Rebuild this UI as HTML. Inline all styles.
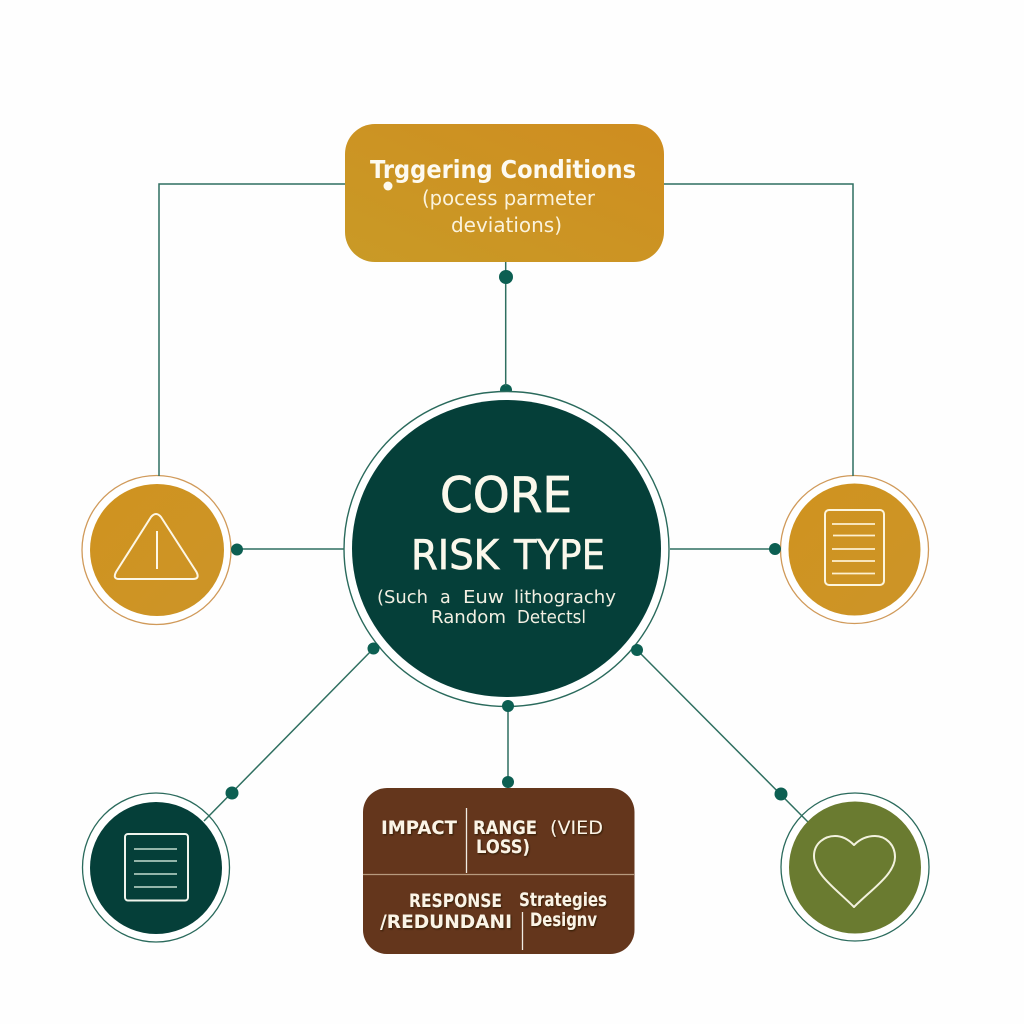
<!DOCTYPE html>
<html><head><meta charset="utf-8"><style>html,body{margin:0;padding:0;background:#fefefe}svg{display:block}text{font-family:"DejaVu Sans","Liberation Sans",sans-serif}</style></head><body>
<svg width="1024" height="1024" viewBox="0 0 1024 1024" xmlns="http://www.w3.org/2000/svg">
<defs>
<linearGradient id="g1" x1="0" y1="1" x2="1" y2="0"><stop offset="0" stop-color="#c99a26"/><stop offset="1" stop-color="#cf8d20"/></linearGradient>
<linearGradient id="g2" x1="0" y1="0" x2="1" y2="1"><stop offset="0" stop-color="#d0931f"/><stop offset="1" stop-color="#cc9428"/></linearGradient>
<filter id="sh" x="-5%" y="-20%" width="110%" height="140%"><feDropShadow dx="1" dy="1.2" stdDeviation="0.8" flood-color="#2a1206" flood-opacity=".8"/></filter>
</defs>
<rect width="1024" height="1024" fill="#fefefe"/>
<circle cx="506" cy="390" r="6" fill="#0c5f52"/>
<!-- outer rings -->
<ellipse cx="506.5" cy="549" rx="162.5" ry="157.5" fill="#fff" stroke="#2a6a5c" stroke-width="1.4"/>
<circle cx="156.5" cy="550" r="74.5" fill="#fff" stroke="#d09a5a" stroke-width="1.3"/>
<circle cx="854.5" cy="549.5" r="74" fill="#fff" stroke="#d09a5a" stroke-width="1.3"/>
<ellipse cx="156" cy="867.5" rx="73.5" ry="74.5" fill="#fff" stroke="#2a6a5c" stroke-width="1.3"/>
<circle cx="855" cy="867" r="74" fill="#fff" stroke="#2a6a5c" stroke-width="1.3"/>
<!-- connectors -->
<g fill="none" stroke="#2f6f60" stroke-width="1.5">
<path d="M345 184H159V476"/><path d="M664 184H853V476"/>
<path d="M505.7 262V386"/><path d="M237 549H344"/><path d="M670 549H775"/>
<path d="M373 649L204 821"/><path d="M637 650L808 822"/><path d="M508 706V788"/>
</g>
<!-- top box -->
<rect x="345" y="124" width="319" height="138" rx="30" fill="url(#g1)"/>
<text x="370" y="178" textLength="266" lengthAdjust="spacingAndGlyphs" font-size="24.5" font-weight="700" fill="#fdfaf0">Trggering Conditions</text>
<circle cx="388" cy="186" r="4.5" fill="#fdfaf0"/>
<text x="422" y="205" textLength="173" lengthAdjust="spacingAndGlyphs" font-size="20" fill="#fbf3dc">(pocess parmeter</text>
<text x="451" y="232" textLength="111" lengthAdjust="spacingAndGlyphs" font-size="20" fill="#fbf3dc">deviations)</text>
<!-- center -->
<ellipse cx="506.5" cy="548.5" rx="154.5" ry="148.5" fill="#053f39"/>
<g fill="#fbf8ec">
<text x="440" y="512" textLength="132" lengthAdjust="spacingAndGlyphs" font-size="49" stroke="#fbf8ec" stroke-width=".8">CORE</text>
<text x="411" y="569" textLength="88" lengthAdjust="spacingAndGlyphs" font-size="41" stroke="#fbf8ec" stroke-width=".7">RISK</text>
<text x="514" y="569" textLength="91" lengthAdjust="spacingAndGlyphs" font-size="41" stroke="#fbf8ec" stroke-width=".4">TYPE</text>
</g>
<g fill="#f2efe2" font-size="17.5">
<text x="377" y="603" textLength="51" lengthAdjust="spacingAndGlyphs">(Such</text>
<text x="440" y="603">a</text>
<text x="463" y="603" textLength="41" lengthAdjust="spacingAndGlyphs">Euw</text>
<text x="514" y="603" textLength="102" lengthAdjust="spacingAndGlyphs">lithograchy</text>
<text x="431" y="623" textLength="75" lengthAdjust="spacingAndGlyphs">Random</text>
<text x="517" y="623" textLength="69" lengthAdjust="spacingAndGlyphs">Detectsl</text>
</g>
<!-- warning -->
<ellipse cx="157" cy="550" rx="67" ry="66" fill="url(#g2)"/>
<path d="M151 517Q156 511 161 517L196.500 572Q200 579 193 579H119Q112.500 579 116 572Z M157 531V569" fill="none" stroke="#fdf7e6" stroke-width="2" stroke-linejoin="round"/>
<!-- right doc -->
<circle cx="854.500" cy="549.500" r="66" fill="url(#g2)"/>
<rect x="825" y="510" width="59" height="75" rx="4" fill="none" stroke="#fdf5dc" stroke-width="2"/>
<path d="M832 524H875M833 535.500H875M832 549H875M832 561H875M832 573.500H875" stroke="#fdf0cf" stroke-width="1.8"/>
<!-- bottom-left doc -->
<circle cx="156" cy="868" r="66" fill="#053f39"/>
<rect x="125" y="834" width="63" height="66.500" rx="3" fill="none" stroke="#f0f4ec" stroke-width="2"/>
<path d="M134 849H177M134 861H177M134 874H177M134 887H177" stroke="#a9c6ba" stroke-width="1.8"/>
<!-- heart -->
<circle cx="855" cy="867.500" r="66" fill="#6a7b30"/>
<path d="M854 907C836 889 814 874 814 856C814 843 825 836 835 836C843 836 849 840 854 845C859 840 866 836 875 836C885 836 895 844 895 857C895 874 872 889 854 907Z" fill="none" stroke="#f3f2de" stroke-width="2" stroke-linejoin="round"/>
<!-- bottom box -->
<rect x="363" y="788" width="271.500" height="166" rx="24" fill="#64361c"/>
<path d="M363 874.500H634" stroke="#b79a7e" stroke-width="1.2"/>
<path d="M466.500 808V873M522.500 912V950" stroke="#f0ece2" stroke-width="1.3"/>
<g fill="#fbf4e6" font-weight="700" font-size="19" filter="url(#sh)">
<text x="381" y="834" textLength="76" lengthAdjust="spacingAndGlyphs">IMPACT</text>
<text x="473" y="834" textLength="64" lengthAdjust="spacingAndGlyphs">RANGE</text>
<text x="550" y="834" textLength="53" lengthAdjust="spacingAndGlyphs" font-weight="400">(VIED</text>
<text x="476" y="853" textLength="54" lengthAdjust="spacingAndGlyphs">LOSS)</text>
<text x="409" y="907" textLength="93" lengthAdjust="spacingAndGlyphs">RESPONSE</text>
<text x="519" y="906" textLength="88" lengthAdjust="spacingAndGlyphs">Strategies</text>
<text x="380" y="928" textLength="132" lengthAdjust="spacingAndGlyphs">/REDUNDANI</text>
<text x="530" y="926" textLength="67" lengthAdjust="spacingAndGlyphs">Designv</text>
</g>
<!-- dots -->
<g fill="#0c5f52"><circle cx="506" cy="277" r="7"/><circle cx="237" cy="549.500" r="6"/><circle cx="775" cy="549" r="6"/><circle cx="373.500" cy="648.500" r="6"/><circle cx="637" cy="650" r="6"/><circle cx="232" cy="793" r="6.500"/><circle cx="781" cy="794" r="6.500"/><circle cx="508" cy="706" r="6"/><circle cx="508" cy="782" r="6"/></g>
</svg>
</body></html>
